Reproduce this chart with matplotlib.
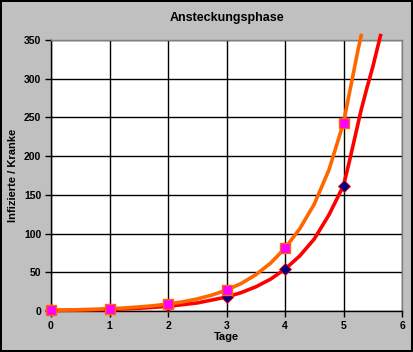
import matplotlib
matplotlib.use("Agg")
import matplotlib.pyplot as plt

# Marker data
days = [0, 1, 2, 3, 4, 5]
squares = [1, 3, 9, 27, 81, 243]
diamonds = [0.67, 2, 6, 18, 54, 162]

# Curve data
orange_x = [0, 0.25, 0.5, 0.75, 1, 1.25, 1.5, 1.75, 2, 2.25, 2.5, 2.75, 3, 3.25, 3.5,
            3.75, 4, 4.25, 4.5, 4.75, 5, 5.15, 5.25, 5.31]
orange_y = [1, 1.3, 1.7, 2.3, 3, 3.9, 5.2, 6.8, 9, 11.8, 15.6, 20.5, 27, 35.5, 46.8,
            61.6, 81, 106, 138, 182, 243, 300, 338, 358]
red_x = [0, 0.5, 1, 1.5, 2, 2.5, 3, 3.25, 3.5, 3.75, 4, 4.25, 4.5, 4.75, 5, 5.1,
         5.2, 5.3, 5.4, 5.5, 5.64]
red_y = [0.67, 1.15, 2, 3.5, 6, 10.4, 18, 23.7, 31.2, 41, 54, 71, 93, 124, 162, 193,
         226, 259, 288, 315, 358]

xticks = [0, 1, 2, 3, 4, 5, 6]
yticks = [0, 50, 100, 150, 200, 250, 300, 350]

plt.rcParams['font.family'] = ['Liberation Sans', 'DejaVu Sans']
plt.rcParams['font.weight'] = 'bold'

fig = plt.figure(figsize=(4.13, 3.52), dpi=100)
fig.patch.set_facecolor('#C0C0C0')
fig.patch.set_edgecolor('black')
fig.patch.set_linewidth(1.5)

ax = fig.add_axes([51/413, 1-311/352, 351/413, 271/352])
ax.set_facecolor('white')
ax.set_xlim(0, 6)
ax.set_ylim(0, 350)
ax.set_xticks(xticks)
ax.set_yticks(yticks)
ax.grid(True, color='black', linewidth=1.0)
ax.set_axisbelow(True)

ax.plot(red_x, red_y, color='#FF0000', linewidth=2.6, clip_on=False, zorder=3,
        solid_capstyle='butt')
ax.plot(orange_x, orange_y, color='#FF6600', linewidth=2.6, clip_on=False, zorder=4,
        solid_capstyle='butt')
ax.plot(days, diamonds, linestyle='none', marker='D', markersize=6.5,
        markerfacecolor='#000080', markeredgecolor='#FF0000', markeredgewidth=0.6,
        clip_on=False, zorder=5)
ax.plot(days, squares, linestyle='none', marker='s', markersize=7,
        markerfacecolor='#FF00FF', markeredgecolor='#FF6600', markeredgewidth=1.0,
        clip_on=False, zorder=6)

for s in ['top', 'right']:
    ax.spines[s].set_color('#808080')
    ax.spines[s].set_linewidth(1.0)
for s in ['left', 'bottom']:
    ax.spines[s].set_color('black')
    ax.spines[s].set_linewidth(1.0)

ax.tick_params(axis='both', direction='out', length=4, width=1, color='black',
               labelsize=7.5, pad=3)
for lab in ax.get_xticklabels() + ax.get_yticklabels():
    lab.set_fontweight('bold')

ax.set_title('Ansteckungsphase', fontsize=9, fontweight='bold', pad=14)
ax.set_xlabel('Tage', fontsize=8, fontweight='bold', labelpad=1)
ax.set_ylabel('Infizierte / Kranke', fontsize=8, fontweight='bold', labelpad=4)

fig.savefig('out.png', dpi=100, facecolor=fig.get_facecolor(), edgecolor='black')
